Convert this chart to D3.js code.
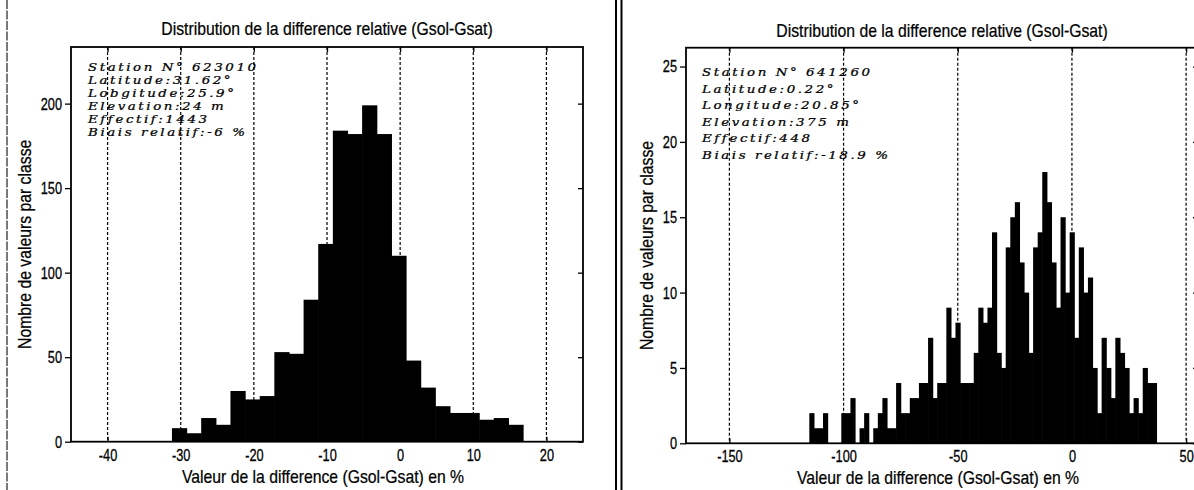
<!DOCTYPE html>
<html><head><meta charset="utf-8">
<script src="https://cdn.jsdelivr.net/npm/d3@7"></script>
<style>
body{margin:0;background:#fff;overflow:hidden;}
svg{display:block;}
</style></head><body>
<svg id="c" width="1194" height="490"></svg>
<script>
// ---------- DATA ----------
const chartTitle = "Distribution de la difference relative (Gsol-Gsat)";
const xAxisTitle = "Valeur de la difference (Gsol-Gsat) en %";
const yAxisTitle = "Nombre de valeurs par classe";

const leftBinEdges = [-31.2,-29.2,-27.2,-25.2,-23.2,-21.2,-19.2,-17.2,-15.2,-13.2,-11.2,-9.2,-7.2,-5.2,-3.2,-1.2,0.8,2.8,4.8,6.8,8.8,10.8,12.8,14.8,16.8];
const leftCounts = [8,5,14,10,30,25,27,53,52,84,117,184,182,199,182,110,48,32,21,17,17,13,14,10];
const leftXTicks = [-40,-30,-20,-10,0,10,20];
const leftYTicks = [0,50,100,150,200];
const leftInfo = ["Station N\u00b0 623010","Latitude:31.62\u00b0","Lobgitude:25.9\u00b0","Elevation:24 m","Effectif:1443","Biais relatif:-6 %"];

const rightBinEdges = [-115,-113,-111,-109,-107,-105,-103,-101,-99,-97,-95,-93,-91,-89,-87,-85,-83,-81,-79,-77,-75,-73,-71,-69,-67,-65,-63,-61,-59,-57,-55,-53,-51,-49,-47,-45,-43,-41,-39,-37,-35,-33,-31,-29,-27,-25,-23,-21,-19,-17,-15,-13,-11,-9,-7,-5,-3,-1,1,3,5,7,9,11,13,15,17,19,21,23,25,27,29,31,33,35,37];
const rightCounts = [2,1,1,2,0,0,0,2,2,3,0,1,2,0,1,2,3,1,1,4,2,2,3,3,4,4,7,3,4,4,9,7,8,4,4,4,6,9,8,9,14,6,5,13,15,16,12,10,6,13,14,18,16,12,9,15,10,14,7,13,10,11,5,2,7,5,3,7,6,5,2,3,2,5,4,4];
const rightXTicks = [-150,-100,-50,0,50];
const rightYTicks = [0,5,10,15,20,25];
const rightInfo = ["Station N\u00b0 641260","Latitude:0.22\u00b0","Longitude:20.85\u00b0","Elevation:375 m","Effectif:448","Biais relatif:-18.9 %"];

// ---------- LAYOUT ----------
const panels = [
  {edges:leftBinEdges, counts:leftCounts, xticks:leftXTicks, yticks:leftYTicks, info:leftInfo,
   x0:71, x1:583, y0:47, y1:441.7, xDom:[-45,25], yDom:[0,233.5],
   infoX:88, infoY:71, infoDy:13, titleY:35, yLabX:24},
  {edges:rightBinEdges, counts:rightCounts, xticks:rightXTicks, yticks:rightYTicks, info:rightInfo,
   x0:686, x1:1198, y0:47.7, y1:443.3, xDom:[-169,55.2], yDom:[0,26.25],
   infoX:702, infoY:76, infoDy:16.6, titleY:37, yLabX:646}
];

const svg = d3.select("#c");
const SANS = "'Liberation Sans', Arial, sans-serif";
const SX = 0.83, TSX = 0.75, ISX = 1.22;

function stext(x, y, str, size, sx, anchor, rot) {
  return svg.append("text")
    .attr("transform", `translate(${x},${y})` + (rot ? ` rotate(${rot})` : "") + ` scale(${sx},1)`)
    .attr("text-anchor", anchor || "middle")
    .attr("font-family", SANS).attr("font-size", size).attr("fill", "#000")
    .attr("stroke", "#000").attr("stroke-width", 0.25)
    .text(str);
}

// page borders (scanned document rules)
svg.append("line").attr("x1",7).attr("x2",7).attr("y1",0).attr("y2",490)
  .attr("stroke","#333").attr("stroke-width",1.3).attr("stroke-dasharray","9,1.5");
svg.append("line").attr("x1",616).attr("x2",616).attr("y1",0).attr("y2",490).attr("stroke","#000").attr("stroke-width",2);
svg.append("line").attr("x1",621.5).attr("x2",621.5).attr("y1",0).attr("y2",490).attr("stroke","#000").attr("stroke-width",2);

panels.forEach(p => {
  const x = d3.scaleLinear().domain(p.xDom).range([p.x0, p.x1]);
  const y = d3.scaleLinear().domain(p.yDom).range([p.y1, p.y0]);

  // grid
  svg.append("g").selectAll("line").data(p.xticks).join("line")
    .attr("x1", d => x(d)).attr("x2", d => x(d)).attr("y1", p.y0).attr("y2", p.y1)
    .attr("stroke","#000").attr("stroke-width",1.2).attr("stroke-dasharray","3,2");

  // bars
  const bins = p.counts.map((c,i) => ({a:p.edges[i], b:p.edges[i+1], c}));
  svg.append("g").selectAll("rect").data(bins.filter(d => d.c > 0)).join("rect")
    .attr("x", d => x(d.a)).attr("width", d => x(d.b) - x(d.a) + 0.6)
    .attr("y", d => y(d.c)).attr("height", d => y(0) - y(d.c))
    .attr("fill","#000");

  // axes
  const fmt = d => String(d);
  const gB = svg.append("g").attr("transform", `translate(0,${p.y1})`)
    .call(d3.axisBottom(x).tickValues(p.xticks).tickFormat(fmt).tickSizeInner(-5).tickSizeOuter(0).tickPadding(7));
  const gT = svg.append("g").attr("transform", `translate(0,${p.y0})`)
    .call(d3.axisTop(x).tickValues(p.xticks).tickFormat("").tickSizeInner(-5).tickSizeOuter(0));
  const gL = svg.append("g").attr("transform", `translate(${p.x0},0)`)
    .call(d3.axisLeft(y).tickValues(p.yticks).tickFormat(fmt).tickSizeInner(6).tickSizeOuter(0).tickPadding(3));
  const gR = svg.append("g").attr("transform", `translate(${p.x1},0)`)
    .call(d3.axisRight(y).tickValues(p.yticks).tickFormat("").tickSizeInner(-5).tickSizeOuter(0));
  [gB,gT,gL,gR].forEach(g => {
    g.select(".domain").remove();
    g.selectAll("line").attr("stroke","#000").attr("stroke-width",1.3);
    g.selectAll("text").attr("font-family", SANS).attr("font-size", 17).attr("fill","#000")
      .attr("stroke","#000").attr("stroke-width",0.3);
  });
  gB.selectAll("text").attr("transform", `scale(${TSX},1)`);
  gL.selectAll("text").attr("x", -9 / TSX).attr("transform", `scale(${TSX},1)`);

  // frame
  svg.append("rect").attr("x", p.x0).attr("y", p.y0).attr("width", p.x1 - p.x0).attr("height", p.y1 - p.y0)
    .attr("fill","none").attr("stroke","#000").attr("stroke-width",1.8);

  // titles
  const cx = (p.x0 + p.x1) / 2;
  stext(cx, p.titleY, chartTitle, 19, SX);
  stext(cx - 4, p.y1 + 41, xAxisTitle, 19, SX);
  stext(p.yLabX + 7, (p.y0 + p.y1) / 2, yAxisTitle, 19, SX, "middle", -90);

  // station info
  svg.append("g").selectAll("text").data(p.info).join("text")
    .attr("transform", (d,i) => `translate(${p.infoX},${p.infoY + i * p.infoDy}) scale(${ISX},1)`)
    .attr("font-family","'DejaVu Serif', serif").attr("font-style","italic")
    .attr("font-size", 11).attr("letter-spacing", 2.1).attr("fill","#000")
    .attr("stroke","#000").attr("stroke-width",0.25)
    .text(d => d);
});
</script>
</body></html>
